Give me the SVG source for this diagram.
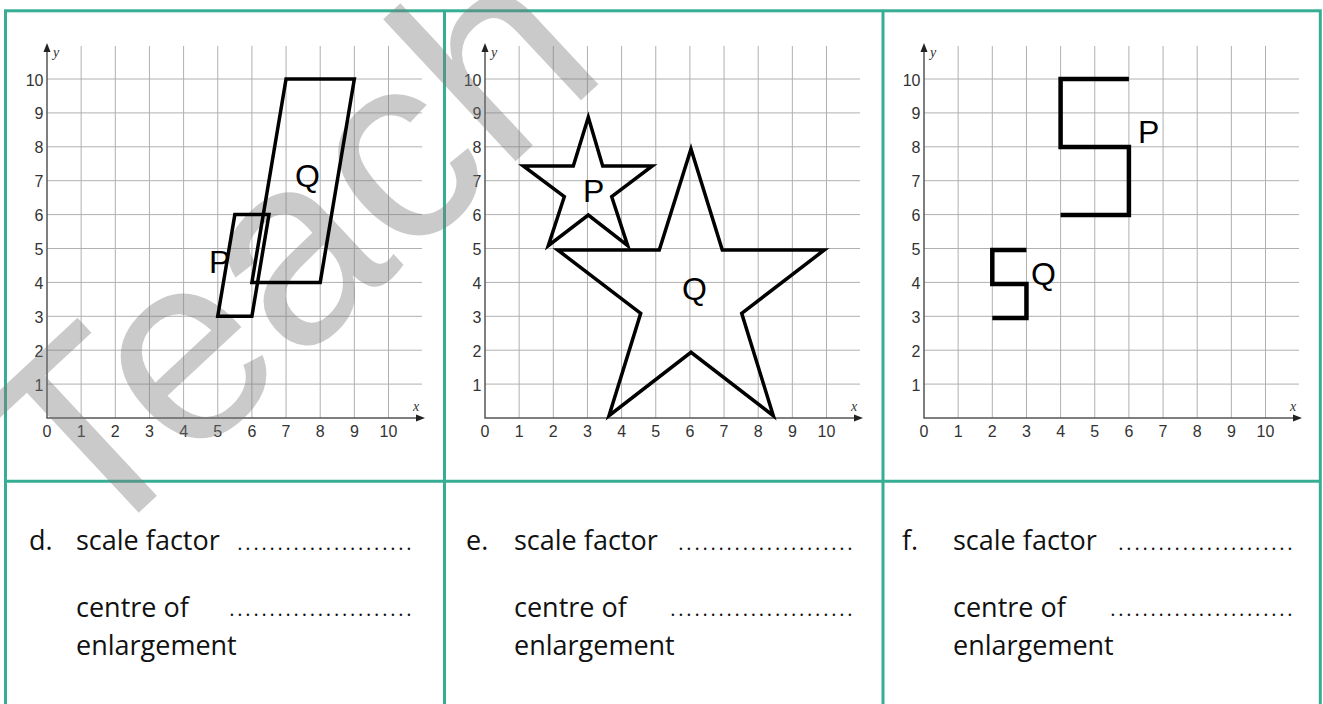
<svg xmlns="http://www.w3.org/2000/svg" xmlns:xlink="http://www.w3.org/1999/xlink" width="1323" height="704" viewBox="0 0 1323 704">
<style>
.border{fill:none;stroke:#37ae93;stroke-width:3}
.grid{fill:none;stroke:#b0b0b0;stroke-width:1}
.axis{fill:none;stroke:#555;stroke-width:1.5}
.arrow{fill:#222}
.tick{font-family:"Liberation Sans Narrow","Liberation Sans",sans-serif;font-size:16px;fill:#333}
.tx{text-anchor:middle}
.ty{text-anchor:end}
.axlbl{font-family:"Liberation Serif",serif;font-style:italic;font-size:14px;fill:#333}
.shape{fill:none;stroke:#000;stroke-width:3.5;stroke-linejoin:miter}
.shape3{fill:none;stroke:#000;stroke-width:4.5;stroke-linejoin:miter;stroke-linecap:butt}
.pq{font-family:"Liberation Sans",Arial,sans-serif;font-size:32px;fill:#000}
.q{font-family:"Open Sans","Liberation Sans",sans-serif;font-size:27px;fill:#111}
.dots{font-family:"Open Sans","Liberation Sans",sans-serif;font-size:20px;fill:#111}
.wm{font-family:"Liberation Sans",Arial,sans-serif;font-size:268px;fill:#7a7a7a;fill-opacity:0.4}
</style>
<defs>
<g id="grid">
<path class="grid" d="M34.15,-372V0M68.3,-372V0M102.45,-372V0M136.6,-372V0M170.75,-372V0M204.9,-372V0M239.05,-372V0M273.2,-372V0M307.35,-372V0M341.5,-372V0M0,-33.9H375M0,-67.8H375M0,-101.7H375M0,-135.6H375M0,-169.5H375M0,-203.4H375M0,-237.3H375M0,-271.2H375M0,-305.1H375M0,-339H375"/>
<path class="axis" d="M0,-368V0H371"/>
<polygon class="arrow" points="0,-375 -3.5,-366 3.5,-366"/>
<polygon class="arrow" points="378,0 369,-3.5 369,3.5"/>
<text class="tick tx" x="0" y="18.5">0</text>
<text class="tick tx" x="34.15" y="18.5">1</text>
<text class="tick tx" x="68.3" y="18.5">2</text>
<text class="tick tx" x="102.45" y="18.5">3</text>
<text class="tick tx" x="136.6" y="18.5">4</text>
<text class="tick tx" x="170.75" y="18.5">5</text>
<text class="tick tx" x="204.9" y="18.5">6</text>
<text class="tick tx" x="239.05" y="18.5">7</text>
<text class="tick tx" x="273.2" y="18.5">8</text>
<text class="tick tx" x="307.35" y="18.5">9</text>
<text class="tick tx" x="341.5" y="18.5">10</text>
<text class="tick ty" x="-3.5" y="-27.4">1</text>
<text class="tick ty" x="-3.5" y="-61.3">2</text>
<text class="tick ty" x="-3.5" y="-95.2">3</text>
<text class="tick ty" x="-3.5" y="-129.1">4</text>
<text class="tick ty" x="-3.5" y="-163">5</text>
<text class="tick ty" x="-3.5" y="-196.9">6</text>
<text class="tick ty" x="-3.5" y="-230.8">7</text>
<text class="tick ty" x="-3.5" y="-264.7">8</text>
<text class="tick ty" x="-3.5" y="-298.6">9</text>
<text class="tick ty" x="-3.5" y="-332.5">10</text>
<text class="axlbl" x="6" y="-361">y</text>
<text class="axlbl" x="366" y="-7">x</text>
</g>
</defs>
<rect x="0" y="0" width="1323" height="704" fill="#fff"/>
<g id="table">
<rect class="border" x="5.5" y="10.8" width="1314.8" height="720"/>
<line class="border" x1="444.5" y1="10.8" x2="444.5" y2="720"/>
<line class="border" x1="883" y1="10.8" x2="883" y2="720"/>
<line class="border" x1="5.5" y1="481.3" x2="1320.3" y2="481.3"/>
</g>
<g id="grids">
<use xlink:href="#grid" x="47" y="418"/>
<use xlink:href="#grid" x="485" y="418"/>
<use xlink:href="#grid" x="924" y="418"/>
</g>
<g id="watermark">
<text class="wm" x="88" y="560" transform="rotate(-43 88 560)">Teach</text>
</g>
<g id="panel-d">
<polygon class="shape" points="217.75,316.3 251.9,316.3 268.98,214.6 234.83,214.6"/>
<polygon class="shape" points="251.9,282.4 320.2,282.4 354.35,79 286.05,79"/>
<text class="pq" x="209" y="273">P</text>
<text class="pq" x="295" y="187">Q</text>
</g>
<g id="panel-e">
<polygon class="shape" points="588.3,117.3 602.7,166 652.3,166 611.7,196.7 627.7,245.7 588.3,215 548.3,245.7 564.3,196.7 523.3,166 573.3,166"/>
<polygon class="shape" points="691,149 722.3,250 824.3,250 741.7,313.3 773.3,415.7 691,352.3 609,415.7 640.7,313.3 557.7,250 659.3,250"/>
<text class="pq" x="583" y="202">P</text>
<text class="pq" x="682" y="300">Q</text>
</g>
<g id="panel-f">
<polyline class="shape3" points="1128.9,79 1060.6,79 1060.6,147 1128.9,147 1128.9,215 1060.6,215"/>
<polyline class="shape3" points="1026.45,250 992.3,250 992.3,284 1026.45,284 1026.45,318 992.3,318"/>
<text class="pq" x="1138" y="143">P</text>
<text class="pq" x="1031" y="285">Q</text>
</g>
<g id="question-d">
<text class="q" x="29" y="550">d.</text>
<text class="q" x="76" y="550">scale factor</text>
<text class="q" x="76" y="617">centre of</text>
<text class="q" x="76" y="655">enlargement</text>
<g id="dots-d">
<text class="dots" y="550.4" x="237.3 245.3 253.4 261.4 269.5 277.5 285.6 293.6 301.7 309.7 317.8 325.8 333.9 341.9 350.0 358.0 366.1 374.1 382.2 390.2 398.3 406.3">......................</text>
<text class="dots" y="616.4" x="229.3 237.3 245.3 253.4 261.4 269.5 277.5 285.6 293.6 301.7 309.7 317.8 325.8 333.9 341.9 350.0 358.0 366.1 374.1 382.2 390.2 398.3 406.3">.......................</text>
</g>
</g>
<g id="question-e">
<text class="q" x="466" y="550">e.</text>
<text class="q" x="514" y="550">scale factor</text>
<text class="q" x="514" y="617">centre of</text>
<text class="q" x="514" y="655">enlargement</text>
<g transform="translate(441,0)">
<text class="dots" y="550.4" x="237.3 245.3 253.4 261.4 269.5 277.5 285.6 293.6 301.7 309.7 317.8 325.8 333.9 341.9 350.0 358.0 366.1 374.1 382.2 390.2 398.3 406.3">......................</text>
<text class="dots" y="616.4" x="229.3 237.3 245.3 253.4 261.4 269.5 277.5 285.6 293.6 301.7 309.7 317.8 325.8 333.9 341.9 350.0 358.0 366.1 374.1 382.2 390.2 398.3 406.3">.......................</text>
</g>
</g>
<g id="question-f">
<text class="q" x="902" y="550">f.</text>
<text class="q" x="953" y="550">scale factor</text>
<text class="q" x="953" y="617">centre of</text>
<text class="q" x="953" y="655">enlargement</text>
<g transform="translate(881,0)">
<text class="dots" y="550.4" x="237.3 245.3 253.4 261.4 269.5 277.5 285.6 293.6 301.7 309.7 317.8 325.8 333.9 341.9 350.0 358.0 366.1 374.1 382.2 390.2 398.3 406.3">......................</text>
<text class="dots" y="616.4" x="229.3 237.3 245.3 253.4 261.4 269.5 277.5 285.6 293.6 301.7 309.7 317.8 325.8 333.9 341.9 350.0 358.0 366.1 374.1 382.2 390.2 398.3 406.3">.......................</text>
</g>
</g>
</svg>
